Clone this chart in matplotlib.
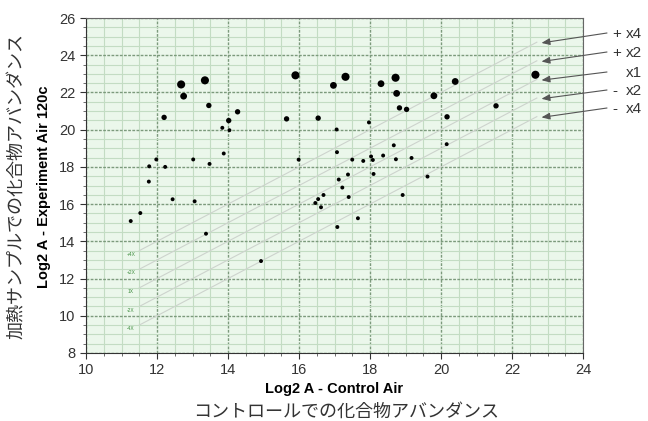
import numpy as np
import matplotlib
matplotlib.use("Agg")
import matplotlib.pyplot as plt
from matplotlib.ticker import MultipleLocator

plt.rcParams["font.family"] = ["Liberation Sans", "DejaVu Sans"]

# log2 abundance, control (x) vs heated sample (y); size class = relative spot size
control_log2 = [12.68, 13.35, 12.75, 13.46, 14.27, 12.20, 14.02, 13.84, 14.04, 13.88,
                11.98, 13.02, 11.78, 12.23, 13.48, 11.77, 12.44, 13.06, 11.53, 11.26,
                13.38, 14.93, 15.90, 17.31, 16.97, 18.31, 18.72, 18.75, 19.80, 18.83,
                19.03, 15.65, 16.54, 17.97, 17.06, 18.67, 17.07, 15.99, 17.50, 17.81,
                18.03, 18.08, 18.37, 18.73, 19.17, 17.38, 18.10, 17.12, 17.22, 19.62,
                16.69, 16.54, 17.40, 18.92, 16.46, 16.62, 17.66, 17.08, 20.40, 22.66,
                21.55, 20.17, 20.16]
heated_log2 = [22.43, 22.65, 21.80, 21.30, 20.96, 20.66, 20.49, 20.10, 19.97, 18.72,
               18.40, 18.40, 18.03, 18.00, 18.16, 17.21, 16.26, 16.15, 15.52, 15.09,
               14.41, 12.94, 22.92, 22.84, 22.38, 22.47, 22.79, 21.95, 21.82, 21.17,
               21.09, 20.58, 20.62, 20.39, 20.01, 19.16, 18.79, 18.39, 18.39, 18.32,
               18.56, 18.37, 18.61, 18.41, 18.48, 17.59, 17.62, 17.32, 16.89, 17.48,
               16.49, 16.27, 16.38, 16.49, 16.06, 15.83, 15.24, 14.77, 22.59, 22.95,
               21.28, 20.69, 19.22]
size_class = [4, 4, 3, 2, 2, 2, 2, 1, 1, 1,
              1, 1, 1, 1, 1, 1, 1, 1, 1, 1,
              1, 1, 4, 4, 3, 3, 4, 3, 3, 2,
              2, 2, 2, 1, 1, 1, 1, 1, 1, 1,
              1, 1, 1, 1, 1, 1, 1, 1, 1, 1,
              1, 1, 1, 1, 1, 1, 1, 1, 3, 4,
              2, 2, 1]

# fold-change reference lines (log2 offsets)
fold_offsets = [2, 1, 0, -1, -2]
fold_labels = ["+4X", "+2X", "1X", "-2X", "-4X"]
side_signs = ["+", "+", "", "-", "-"]
side_labels = ["x4", "x2", "x1", "x2", "x4"]

fig = plt.figure(figsize=(6.48, 4.21), dpi=100)
ax = fig.add_axes([86 / 648, 68 / 421, 497 / 648, 335 / 421])
ax.set_facecolor("#ebf7eb")

ax.set_xlim(10, 24)
ax.set_ylim(8, 26)
ax.xaxis.set_major_locator(MultipleLocator(2))
ax.yaxis.set_major_locator(MultipleLocator(2))
ax.xaxis.set_minor_locator(MultipleLocator(0.5))
ax.yaxis.set_minor_locator(MultipleLocator(0.5))
ax.grid(which="minor", color="#c3dcc3", linewidth=0.8)
ax.grid(which="major", color="#7c9a7c", linewidth=1.0, linestyle=(0, (2, 1)))
ax.set_axisbelow(True)
ax.tick_params(which="major", direction="out", length=4, labelsize=10.5, colors="#333333")
ax.tick_params(which="minor", direction="out", length=2, colors="#555555")
for s in ["left", "bottom"]:
    ax.spines[s].set_color("#333333")
for s in ["top", "right"]:
    ax.spines[s].set_color("#666666")

# diagonal fold lines
xs = np.array([11.5, 22.7])
for off, lab in zip(fold_offsets, fold_labels):
    ax.plot(xs, xs + off, color="#cdd3cd", linewidth=0.8, zorder=1)
    ax.text(11.27, 11.3 + off, lab, fontsize=3.5, color="#3c8c3c",
            ha="center", va="center")

sizes_map = {1: 8, 2: 15, 3: 24, 4: 34}
ax.scatter(control_log2, heated_log2, s=[sizes_map[c] for c in size_class],
           color="black", zorder=3, linewidths=0)

# arrows pointing at fold lines from the right margin
tail_y = [33, 52, 72, 90, 108]
for off, ty, sign, lab in zip(fold_offsets, tail_y, side_signs, side_labels):
    ax.annotate("", xy=(22.83, 22.66 + off), xycoords="data",
                xytext=(607, 421 - ty), textcoords="figure pixels",
                arrowprops=dict(arrowstyle="-|>,head_length=0.5,head_width=0.2",
                                color="#555555", lw=0.8, shrinkA=0, shrinkB=0))
    if sign:
        fig.text(612 / 648, (421 - ty - 1) / 421, sign, fontsize=11, color="#333333",
                 ha="left", va="center")
    fig.text(626 / 648, (421 - ty - 1) / 421, lab, fontsize=11, color="#333333",
             ha="left", va="center")

fig.text(334 / 648, (421 - 389) / 421, "Log2 A - Control Air", fontsize=10.5,
         fontweight="bold", ha="center", va="center")
fig.text(44 / 648, (421 - 187) / 421, "Log2 A - Experiment Air 120c", fontsize=10.5,
         fontweight="bold", ha="center", va="center", rotation=90)
fig.text(346 / 648, (421 - 412) / 421, "コントロールでの化合物アバンダンス",
         fontsize=13, color="#333333", ha="center", va="center",
         family=["Noto Sans CJK JP", "DejaVu Sans"])
fig.text(17 / 648, (421 - 186) / 421, "加熱サンプルでの化合物アバンダンス",
         fontsize=13, color="#333333", ha="center", va="center", rotation=90,
         family=["Noto Sans CJK JP", "DejaVu Sans"])

fig.savefig("out.png", dpi=100)
